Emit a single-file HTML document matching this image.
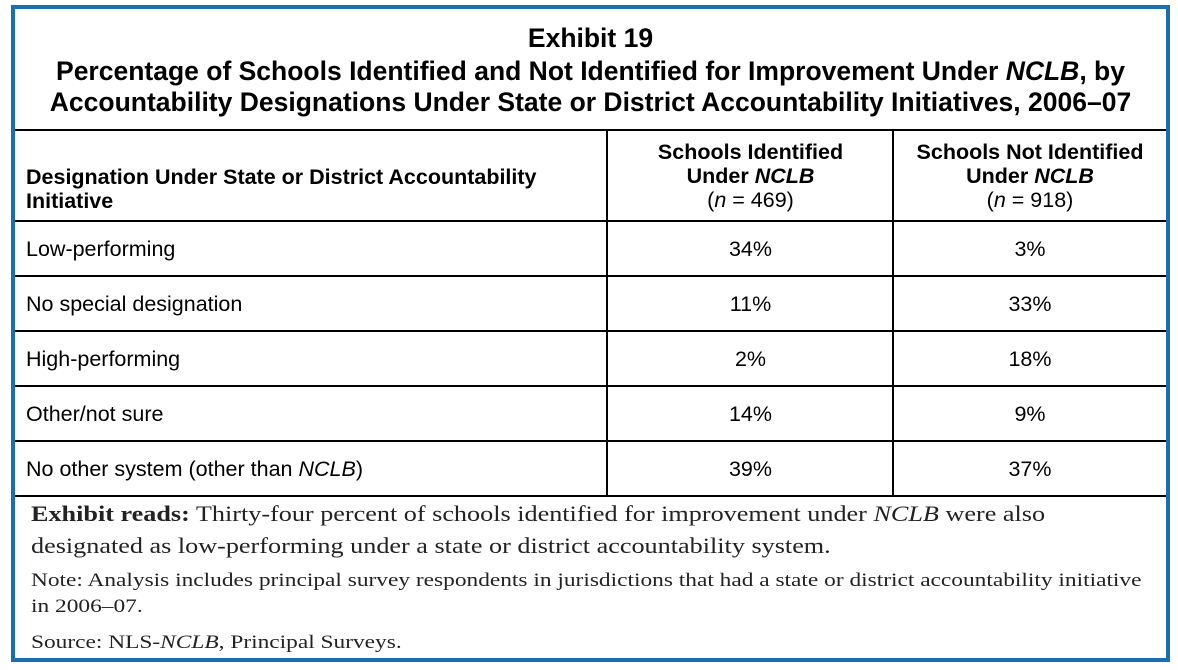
<!DOCTYPE html>
<html><head><meta charset="utf-8"><style>
body{margin:0;width:1178px;height:670px;background:#fff;position:relative;overflow:hidden;font-family:"Liberation Sans",Arial,sans-serif;color:#000}
.abs{position:absolute}
.frame{left:11px;top:5px;width:1151px;height:649px;border:4px solid #1a6fb0}
.hl{position:absolute;left:15px;width:1151px;height:2px;background:#000}
.vl{position:absolute;width:2px;background:#000;top:130px;height:367px}
.t{position:absolute;left:15px;width:1151px;text-align:center;font-weight:bold;font-size:26.5px;line-height:31px;white-space:nowrap}
.hd{position:absolute;font-weight:bold;font-size:21.5px;line-height:24px;white-space:nowrap}
.c{position:absolute;font-size:21.5px;line-height:24px;white-space:nowrap}
.num{text-align:center}
.ser{position:absolute;left:31px;font-family:"Liberation Serif",serif;color:#222;transform-origin:0 0;white-space:nowrap}
</style></head><body>
<div class="abs frame"></div>
<div class="t" style="top:23px">Exhibit 19</div>
<div class="t" style="top:56px">Percentage of Schools Identified and Not Identified for Improvement Under <i>NCLB</i>, by<br>Accountability Designations Under State or District Accountability Initiatives, 2006–07</div>
<div class="hl" style="top:129px"></div>
<div class="hl" style="top:220px"></div>
<div class="hl" style="top:275px"></div>
<div class="hl" style="top:330px"></div>
<div class="hl" style="top:385px"></div>
<div class="hl" style="top:440px"></div>
<div class="hl" style="top:495px"></div>
<div class="vl" style="left:606px"></div>
<div class="vl" style="left:892px"></div>
<div class="hd" style="left:26px;top:165px">Designation Under State or District Accountability<br>Initiative</div>
<div class="hd num" style="left:608px;width:285px;top:140px">Schools Identified<br>Under <i>NCLB</i><br><span style="font-weight:normal">(<i>n</i> = 469)</span></div>
<div class="hd num" style="left:894px;width:272px;top:140px">Schools Not Identified<br>Under <i>NCLB</i><br><span style="font-weight:normal">(<i>n</i> = 918)</span></div>
<div id="rows"></div>
<div class="ser" style="top:498px;font-size:22px;line-height:32px;transform:scaleX(1.19)"><b>Exhibit reads:</b> Thirty-four percent of schools identified for improvement under <i>NCLB</i> were also<br>designated as low-performing under a state or district accountability system.</div>
<div class="ser" style="top:568px;font-size:19px;line-height:26px;transform:scaleX(1.23)">Note: Analysis includes principal survey respondents in jurisdictions that had a state or district accountability initiative<br>in 2006–07.</div>
<div class="ser" style="top:630px;font-size:19px;line-height:26px;transform:scaleX(1.23)">Source: NLS-<i>NCLB</i>, Principal Surveys.</div>
<script>
const categories=["Low-performing","No special designation","High-performing","Other/not sure","No other system (other than <i>NCLB</i>)"];
const identified=[34,11,2,14,39];
const notIdentified=[3,33,18,9,37];
const rows=document.getElementById('rows');
categories.forEach((c,i)=>{
  const top=221+i*55+16;
  const a=document.createElement('div');a.className='c';a.style.left='26px';a.style.top=top+'px';a.innerHTML=c;
  
  
  rows.appendChild(a);
  const b=document.createElement('div');b.className='c num';b.style.left='608px';b.style.width='285px';b.style.top=top+'px';b.textContent=identified[i]+'%';
  
  
  rows.appendChild(b);
  const d=document.createElement('div');d.className='c num';d.style.left='894px';d.style.width='272px';d.style.top=top+'px';d.textContent=notIdentified[i]+'%';
  
  
  rows.appendChild(d);
});
</script>
</body></html>
